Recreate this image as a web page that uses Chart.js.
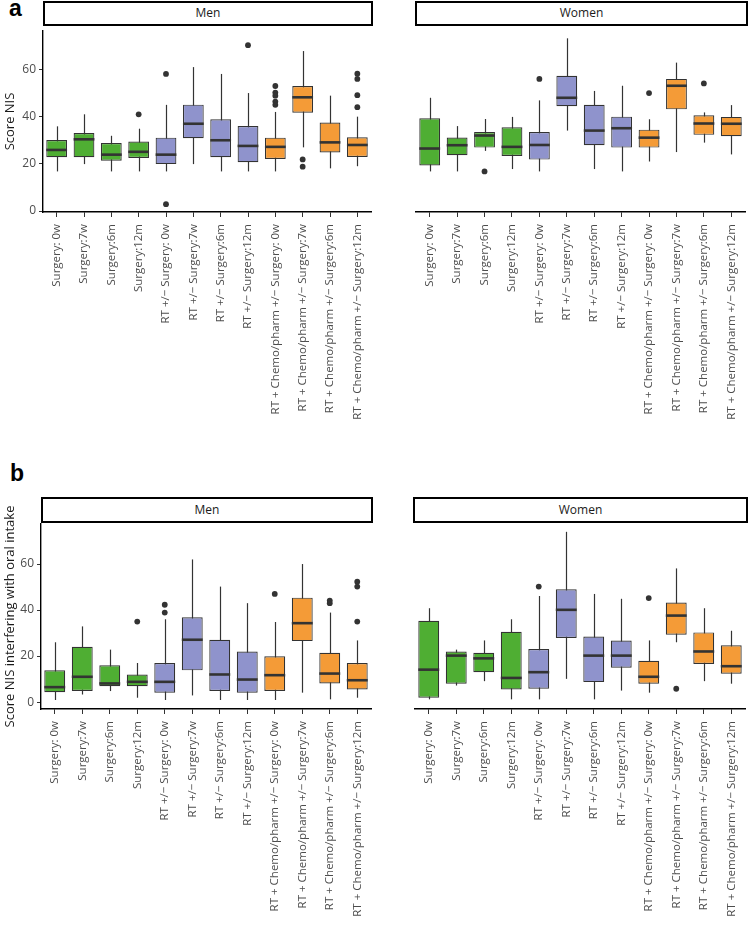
<!DOCTYPE html>
<html lang="en">
<head>
<meta charset="UTF-8">
<title>NIS scores by treatment group</title>
<script src="https://cdn.jsdelivr.net/npm/chart.js"></script>
<style>
    body { margin: 0; background: #fff; }
    #page { position: relative; width: 749px; height: 931px; overflow: hidden; }
    canvas { position: absolute; }
    .strip {
        position: absolute;
        box-sizing: border-box;
        border: 2.5px solid #000;
        background: #fff;
        font-family: 'Open Sans', sans-serif;
        font-size: 12px;
        color: #1a1a1a;
        text-align: center;
    }
    .tag {
        position: absolute;
        font-family: 'Liberation Sans', Arial, sans-serif;
        font-weight: bold;
        font-size: 23px;
        line-height: 23px;
    }
</style>
</head>
<body>
<div id="page">
    <div class="tag" style="left:9px; top:-3px;">a</div>
    <div class="tag" style="left:10px; top:462px;">b</div>

    <div class="strip" style="left:43px; top:1px; width:330px; height:25px; line-height:20px;">Men</div>
    <div class="strip" style="left:415px; top:1px; width:333px; height:25px; line-height:20px;">Women</div>
    <div class="strip" style="left:41px; top:497px; width:332px; height:26px; line-height:21px;">Men</div>
    <div class="strip" style="left:413px; top:497px; width:335px; height:26px; line-height:21px;">Women</div>

    <canvas id="menA" width="375" height="404" style="left:0; top:27px;"></canvas>
    <canvas id="womenA" width="374" height="404" style="left:375px; top:27px;"></canvas>
    <canvas id="menB" width="375" height="451" style="left:0; top:480px;"></canvas>
    <canvas id="womenB" width="374" height="451" style="left:375px; top:480px;"></canvas>
</div>

<script>
    const categories = [
        'Surgery: 0w', 'Surgery:7w', 'Surgery:6m', 'Surgery:12m',
        'RT +/\u2212 Surgery: 0w', 'RT +/\u2212 Surgery:7w', 'RT +/\u2212 Surgery:6m', 'RT +/\u2212 Surgery:12m',
        'RT + Chemo/pharm +/\u2212 Surgery: 0w', 'RT + Chemo/pharm +/\u2212 Surgery:7w',
        'RT + Chemo/pharm +/\u2212 Surgery:6m', 'RT + Chemo/pharm +/\u2212 Surgery:12m'
    ];
    const yTicks = [0, 20, 40, 60];

    // panel a - Score NIS, men
    const menA_low  = [16.8, 19.9, 16.8, 16.8, 16.8, 19.9, 16.8, 16.8, 16.8, 27.0, 18.1, 19.0];
    const menA_q1   = [22.8, 22.8, 21.3, 22.5, 19.9, 30.9, 22.8, 20.7, 22.1, 41.7, 24.8, 22.9];
    const menA_med  = [25.9, 30.4, 23.9, 25.1, 23.9, 37.0, 30.0, 27.6, 27.2, 48.2, 29.1, 28.0];
    const menA_q3   = [30.1, 33.1, 28.8, 29.5, 31.1, 45.1, 38.9, 36.0, 31.1, 53.0, 37.5, 31.3];
    const menA_high = [35.9, 41.0, 31.9, 34.9, 45.0, 61.0, 58.1, 50.0, 42.0, 67.8, 48.9, 40.0];
    const menA_out  = [[3, 41], [4, 58.1], [4, 2.9], [7, 70.3], [8, 53], [8, 50.2], [8, 48.9], [8, 46.4],
                       [8, 45], [9, 21.9], [9, 18.8], [11, 58.2], [11, 56], [11, 49.1], [11, 44]];

    // panel a - Score NIS, women
    const womenA_low  = [16.8, 16.8, 25.5, 17.8, 16.8, 34.1, 17.8, 16.8, 21.0, 25.0, 29.0, 24.0];
    const womenA_q1   = [19.3, 23.7, 26.9, 23.3, 21.8, 44.4, 27.9, 26.9, 26.9, 43.1, 32.3, 31.7];
    const womenA_med  = [26.5, 27.9, 32.0, 27.2, 28.0, 48.0, 34.1, 35.1, 31.1, 53.1, 37.1, 37.0];
    const womenA_q3   = [39.3, 31.2, 33.5, 35.5, 33.5, 57.3, 45.0, 40.0, 34.5, 56.0, 40.6, 39.9];
    const womenA_high = [48.0, 36.0, 39.0, 39.9, 46.9, 73.2, 50.9, 53.1, 38.9, 62.9, 41.8, 44.9];
    const womenA_out  = [[2, 16.8], [4, 56], [8, 50], [10, 54.1]];

    // panel b - Score NIS interfering with oral intake, men
    const menB_low  = [0.9, 3.3, 4.8, 1.9, 0.9, 2.9, 0.9, 0.9, 0.9, 4.1, 1.2, 1.9];
    const menB_q1   = [4.3, 4.8, 6.9, 6.9, 4.1, 13.8, 4.8, 4.1, 4.8, 26.5, 8.1, 5.5];
    const menB_med  = [6.5, 11.0, 8.1, 8.8, 8.8, 27.1, 12.0, 9.8, 11.7, 34.3, 12.4, 9.5];
    const menB_q3   = [13.8, 24.0, 16.0, 12.0, 17.0, 36.9, 27.1, 22.0, 19.9, 45.4, 21.4, 17.0];
    const menB_high = [26.0, 32.9, 22.8, 17.0, 36.0, 62.0, 50.2, 43.0, 34.8, 60.0, 38.9, 26.8];
    const menB_out  = [[3, 35], [4, 42.3], [4, 38.9], [8, 47], [10, 44.1], [10, 43],
                       [11, 52.3], [11, 50.2], [11, 35]];

    // panel b - Score NIS interfering with oral intake, women
    const womenB_low  = [1.2, 7.2, 9.1, 1.2, 1.2, 10.1, 1.2, 5.0, 4.1, 26.0, 9.1, 8.0];
    const womenB_q1   = [1.9, 8.0, 13.0, 5.5, 5.8, 27.9, 8.7, 14.9, 8.0, 29.3, 16.6, 12.3];
    const womenB_med  = [14.1, 20.2, 19.0, 10.5, 13.0, 40.1, 20.2, 20.2, 11.0, 37.6, 22.0, 15.6];
    const womenB_q3   = [35.3, 22.0, 21.4, 30.6, 23.1, 49.0, 28.5, 26.8, 18.0, 43.3, 30.3, 24.7];
    const womenB_high = [40.8, 22.8, 26.8, 36.0, 46.1, 74.0, 47.0, 44.9, 26.8, 58.1, 40.8, 31.0];
    const womenB_out  = [[4, 50.2], [8, 45.2], [9, 5.8]];

    const green = '#4fae33', purple = '#8f93cc', orange = '#f49b37';
    const boxColors = [green, green, green, green, purple, purple, purple, purple, orange, orange, orange, orange];
    const ink = '#333333';

    // whiskers behind the boxes, medians on top of them
    const boxStats = {
        id: 'boxStats',
        beforeDatasetsDraw(chart, args, opts) {
            const {ctx, scales: {x, y}} = chart;
            ctx.save();
            ctx.strokeStyle = ink;
            ctx.lineWidth = 1.2;
            opts.low.forEach((lo, i) => {
                const px = Math.round(x.getPixelForValue(i)) + 0.5;
                ctx.beginPath();
                ctx.moveTo(px, y.getPixelForValue(lo));
                ctx.lineTo(px, y.getPixelForValue(opts.high[i]));
                ctx.stroke();
            });
            ctx.restore();
        },
        afterDatasetsDraw(chart, args, opts) {
            const {ctx, scales: {y}} = chart;
            const bars = chart.getDatasetMeta(0).data;
            ctx.save();
            ctx.strokeStyle = ink;
            ctx.lineWidth = 2.6;
            opts.med.forEach((m, i) => {
                const bar = bars[i];
                const py = y.getPixelForValue(m);
                ctx.beginPath();
                ctx.moveTo(bar.x - bar.width / 2, py);
                ctx.lineTo(bar.x + bar.width / 2, py);
                ctx.stroke();
            });
            ctx.restore();
        }
    };

    function makePanel(id, low, q1, med, q3, high, out, yMin, yMax, yTitle, yWidth, xHeight, padTop, padRight) {
        const showY = yTitle !== null;
        return new Chart(document.getElementById(id), {
            type: 'bar',
            data: {
                labels: categories,
                datasets: [{
                    data: q1.map((v, i) => [v, q3[i]]),
                    backgroundColor: boxColors,
                    borderColor: ink,
                    borderWidth: 1.2,
                    borderSkipped: false,
                    barPercentage: 0.76,
                    categoryPercentage: 1,
                    order: 2
                }, {
                    type: 'scatter',
                    data: out.map(o => ({x: categories[o[0]], y: o[1]})),
                    pointRadius: 2.9,
                    pointBackgroundColor: ink,
                    pointBorderWidth: 0,
                    order: 1
                }]
            },
            options: {
                responsive: false,
                animation: false,
                layout: {padding: {top: padTop, right: padRight, bottom: 0, left: 0}},
                plugins: {
                    legend: {display: false},
                    tooltip: {enabled: false},
                    boxStats: {low: low, med: med, high: high}
                },
                scales: {
                    x: {
                        type: 'category',
                        offset: true,
                        grid: {display: true, drawOnChartArea: false, drawTicks: true, tickLength: 5,
                               offset: false, color: ink, lineWidth: 1},
                        border: {display: true, color: '#000', width: 1.4},
                        ticks: {color: '#4d4d4d', font: {family: 'Open Sans', size: 11.5}, padding: 7,
                                minRotation: 90, maxRotation: 90, autoSkip: false},
                        afterFit(s) {
                            s.height = xHeight;
                            s.paddingLeft = 0;
                            s.paddingRight = 0;
                        }
                    },
                    y: {
                        min: yMin,
                        max: yMax,
                        afterBuildTicks(s) { s.ticks = yTicks.map(v => ({value: v})); },
                        grid: {display: showY, drawOnChartArea: false, drawTicks: true, tickLength: 4,
                               color: ink, lineWidth: 1},
                        border: {display: showY, color: '#000', width: 1.4},
                        ticks: {display: showY, color: '#4d4d4d', font: {family: 'Open Sans', size: 12},
                                padding: 3},
                        title: {display: showY, text: yTitle || '', color: '#1a1a1a',
                                font: {family: 'Open Sans', size: 13}, padding: {top: 2, bottom: 0}},
                        afterFit(s) {
                            s.width = yWidth;
                            s.paddingTop = 0;
                            s.paddingBottom = 0;
                        }
                    }
                }
            },
            plugins: [boxStats]
        });
    }

    makePanel('menA', menA_low, menA_q1, menA_med, menA_q3, menA_high, menA_out,
              -0.4, 76.3, 'Score NIS', 43, 219, 0, 3);
    makePanel('womenA', womenA_low, womenA_q1, womenA_med, womenA_q3, womenA_high, womenA_out,
              -0.4, 76.3, null, 41, 219, 0, 2);
    makePanel('menB', menB_low, menB_q1, menB_med, menB_q3, menB_high, menB_out,
              -3, 77.4, 'Score NIS interfering with oral intake', 41, 222, 44, 3);
    makePanel('womenB', womenB_low, womenB_q1, womenB_med, womenB_q3, womenB_high, womenB_out,
              -3, 77.4, null, 40, 222, 44, 2);
</script>
</body>
</html>
